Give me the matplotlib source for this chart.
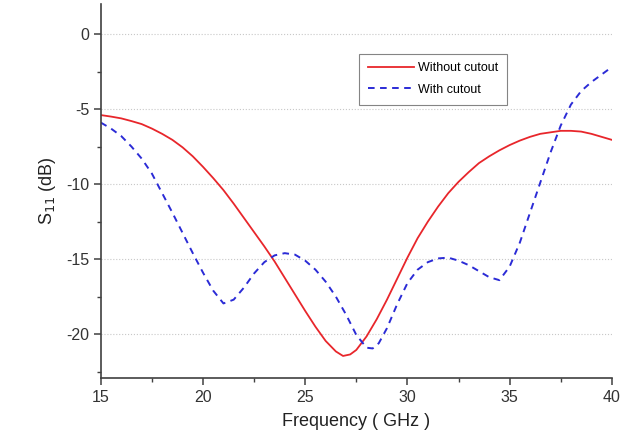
import matplotlib
matplotlib.use("Agg")
import matplotlib.pyplot as plt
from matplotlib.ticker import MultipleLocator

plt.rcParams['font.family'] = ['Liberation Sans', 'DejaVu Sans']
plt.rcParams['axes.unicode_minus'] = False

# Without cutout (red, solid)
freq_a = [15, 15.5, 16, 16.5, 17, 17.5, 18, 18.5, 19, 19.5, 20, 20.5, 21, 21.5,
          22, 22.5, 23, 23.5, 24, 24.5, 25, 25.5, 26, 26.5, 26.85, 27.2, 27.5,
          28, 28.5, 29, 29.5, 30, 30.5, 31, 31.5, 32, 32.5, 33, 33.5, 34, 34.5,
          35, 35.5, 36, 36.5, 37, 37.5, 38, 38.5, 39, 39.5, 40]
s11_a = [-5.4, -5.5, -5.62, -5.8, -6.0, -6.3, -6.65, -7.05, -7.55, -8.15, -8.85,
         -9.6, -10.4, -11.3, -12.25, -13.2, -14.15, -15.15, -16.25, -17.35,
         -18.45, -19.5, -20.45, -21.15, -21.45, -21.35, -21.05, -20.15, -19.0,
         -17.7, -16.3, -14.9, -13.6, -12.5, -11.5, -10.6, -9.85, -9.2, -8.6,
         -8.15, -7.75, -7.4, -7.1, -6.85, -6.65, -6.55, -6.45, -6.45, -6.5,
         -6.65, -6.85, -7.05]

# With cutout (blue, dashed)
freq_b = [15, 15.5, 16, 16.5, 17, 17.5, 18, 18.5, 19, 19.5, 20, 20.5, 21, 21.5,
          22, 22.5, 23, 23.5, 24, 24.5, 25, 25.5, 26, 26.5, 27, 27.5, 28, 28.3,
          28.6, 29, 29.5, 30, 30.5, 31, 31.5, 32, 32.5, 33, 33.5, 34, 34.5, 35,
          35.5, 36, 36.5, 37, 37.5, 38, 38.5, 39, 39.5, 40]
s11_b = [-5.9, -6.3, -6.8, -7.5, -8.3, -9.3, -10.6, -11.9, -13.25, -14.6,
         -15.9, -17.1, -17.95, -17.7, -16.9, -15.95, -15.2, -14.75, -14.6,
         -14.7, -15.1, -15.7, -16.5, -17.5, -18.7, -20.05, -20.9, -20.95,
         -20.6, -19.6, -18.0, -16.6, -15.7, -15.2, -14.95, -14.9, -15.1, -15.4,
         -15.8, -16.2, -16.4, -15.5, -13.9, -11.9, -9.9, -7.9, -6.1, -4.7,
         -3.8, -3.2, -2.7, -2.2]

fig = plt.figure(figsize=(6.34, 4.47), dpi=100)
ax = fig.add_axes([0.159, 0.154, 0.806, 0.837])

ax.plot(freq_a, s11_a, color='#e8262b', lw=1.3, label='Without cutout')
ax.plot(freq_b, s11_b, color='#2b2bd6', lw=1.4, ls=(0, (3.4, 2.8)), label='With cutout')

ax.set_xlim(15, 40)
ax.set_ylim(-22.93, 2.0)
ax.xaxis.set_major_locator(MultipleLocator(5))
ax.xaxis.set_minor_locator(MultipleLocator(2.5))
ax.yaxis.set_major_locator(MultipleLocator(5))
ax.yaxis.set_minor_locator(MultipleLocator(2.5))
ax.yaxis.grid(True, which='major', color='#c8c8c8', ls=':', lw=0.8)

for side in ['top', 'right']:
    ax.spines[side].set_visible(False)
for side in ['left', 'bottom']:
    ax.spines[side].set_color('#404040')
    ax.spines[side].set_linewidth(1.2)

ax.tick_params(which='major', direction='out', length=5, width=1.1,
               color='#404040', labelsize=11.5, labelcolor='#333333')
ax.tick_params(which='minor', direction='out', length=3, width=1.0, color='#404040')

ax.set_xlabel('Frequency ( GHz )', fontsize=13, color='#222222', labelpad=6)
ax.set_ylabel('S$_{11}$ (dB)', fontsize=13, color='#222222', labelpad=6)

leg = ax.legend(loc='upper left', bbox_to_anchor=(0.494, 0.884), fontsize=9,
                frameon=True, fancybox=False, handlelength=3.7, borderpad=0.7,
                labelspacing=0.75, handletextpad=0.25)
leg.get_frame().set_edgecolor('#666666')
leg.get_frame().set_linewidth(0.8)

fig.savefig('out.png', dpi=100)
